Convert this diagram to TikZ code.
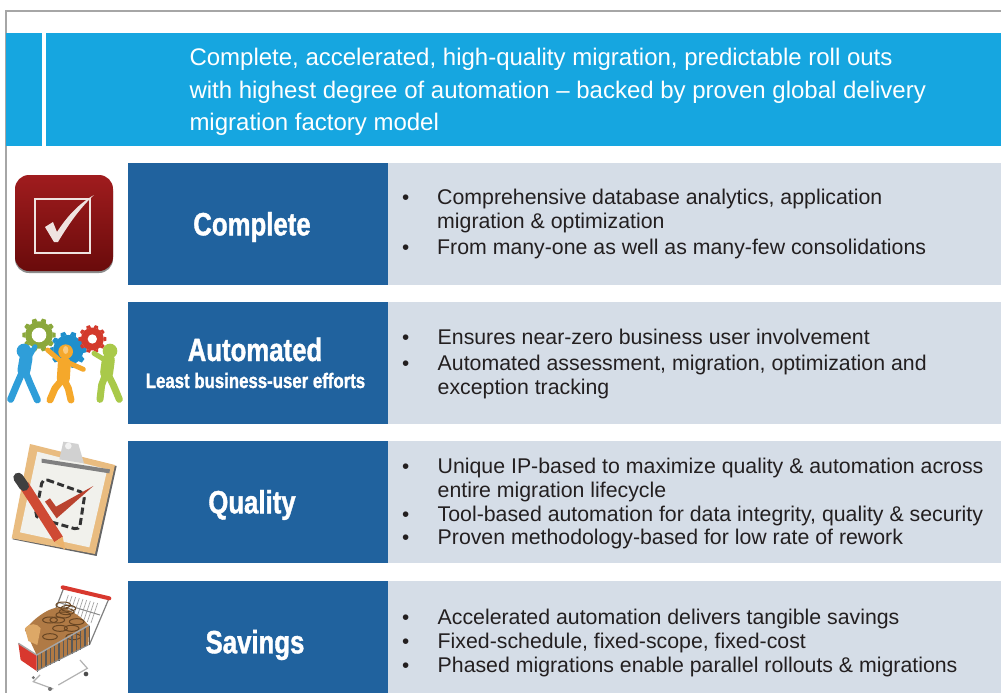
\documentclass[tikz,border=0pt]{standalone}
\usepackage{fontspec}
\setmainfont{Liberation Sans}
\newfontfamily\headfont[FakeStretch=0.8,FakeBold=1.2]{Liberation Sans Bold}
\definecolor{cyanbar}{HTML}{16A6E0}
\definecolor{darkbox}{HTML}{20629E}
\definecolor{lightbox}{HTML}{D5DDE7}
\definecolor{framegray}{HTML}{A6A6A6}
\definecolor{bodytext}{HTML}{231F20}
\definecolor{gearblue}{HTML}{1F8FCC}
\definecolor{geargreen}{HTML}{8BA83C}
\definecolor{gearred}{HTML}{D33A2C}
\definecolor{manblue}{HTML}{2F9ED9}
\definecolor{manorange}{HTML}{F5A82B}
\definecolor{mangreen}{HTML}{A9C94A}
\definecolor{boardtan}{HTML}{E9BC80}
\definecolor{paperwhite}{HTML}{F1F1EC}
\definecolor{pencilred}{HTML}{CF4A34}
\definecolor{coinbrown}{HTML}{B07A45}
\definecolor{coinlight}{HTML}{DDA867}
\definecolor{cartred}{HTML}{D8382E}
\definecolor{icontop}{HTML}{A01C1E}
\definecolor{iconbottom}{HTML}{6A0B0B}
\definecolor{iconwhite}{HTML}{EFE3E0}
\tikzset{
  headline/.style={anchor=base west,inner sep=0pt,text=white,font=\fontsize{24}{24}\selectfont},
  bodyline/.style={anchor=base west,inner sep=0pt,text=bodytext,font=\fontsize{21.3}{24}\selectfont},
  bulletmark/.style={anchor=base west,inner sep=0pt,text=bodytext,font=\fontsize{20.6}{24}\selectfont},
  titlebig/.style={inner sep=0pt,text=white,font=\fontsize{32.2}{30}\headfont},
  titlesmall/.style={inner sep=0pt,text=white,font=\fontsize{21}{24}\headfont},
  darkfill/.style={fill=darkbox,draw=none},
  lightfill/.style={fill=lightbox,draw=none},
  limb/.style={line cap=round,line join=round},
}
\newcommand{\gearicon}[5]{% x y r hole colour
  \foreach \ang in {0,36,...,324}{
    \fill[#5,shift={(#1,#2)},rotate=\ang] (#3*0.8,-#3*0.17) -- (#3,-#3*0.12) -- (#3,#3*0.12) -- (#3*0.8,#3*0.17) -- cycle;
  }
  \fill[#5] (#1,#2) circle[radius=#3*0.82];
  \fill[white] (#1,#2) circle[radius=#4];
}
\begin{document}
\begin{tikzpicture}[x=1pt,y=-1pt]
\useasboundingbox (0,0) rectangle (1001,693);
\fill[white] (0,0) rectangle (1001,693);
% frame
\draw[framegray,line width=1.2pt] (6,693) -- (6,11) -- (1001,11);
% header
\fill[cyanbar] (6,33) rectangle (42,146);
\fill[cyanbar] (46,33) rectangle (1001,146);
\node[headline] (h1) at (189.3,66) {Complete, accelerated, high-quality migration, predictable roll outs};
\node[headline] (h2) at (189.3,98) {with highest degree of automation – backed by proven global delivery};
\node[headline] (h3) at (189.3,130) {migration factory model};
% row boxes
\fill[darkfill] (128,163) rectangle (388,285);
\fill[lightfill] (388,163) rectangle (1001,285);
\fill[darkfill] (128,302) rectangle (388,424);
\fill[lightfill] (388,302) rectangle (1001,424);
\fill[darkfill] (128,441) rectangle (388,563);
\fill[lightfill] (388,441) rectangle (1001,563);
\fill[darkfill] (128,581) rectangle (388,693);
\fill[lightfill] (388,581) rectangle (1001,693);
% titles
\node[titlebig] (t1) at (252,227) {Complete};
\node[titlebig] (t2) at (255,349.5) {Automated};
\node[titlesmall] (t2b) at (255.5,380.5) {Least business-user efforts};
\node[titlebig] (t3) at (252,505) {Quality};
\node[titlebig] (t4) at (255,645) {Savings};
% row 1 text
\node[bulletmark] (b11) at (402,204) {•};
\node[bodyline] (l11) at (437,204) {Comprehensive database analytics, application};
\node[bodyline] (l12) at (437,228) {migration \& optimization};
\node[bulletmark] (b12) at (402,254) {•};
\node[bodyline] (l13) at (437,254) {From many-one as well as many-few consolidations};
% row 2 text
\node[bulletmark] (b21) at (402,344.3) {•};
\node[bodyline] (l21) at (437.5,344.3) {Ensures near-zero business user involvement};
\node[bulletmark] (b22) at (402,370.3) {•};
\node[bodyline] (l22) at (437.5,370.3) {Automated assessment, migration, optimization and};
\node[bodyline] (l23) at (437.5,394.3) {exception tracking};
% row 3 text
\node[bulletmark] (b31) at (402,473) {•};
\node[bodyline] (l31) at (437.5,473) {Unique IP-based to maximize quality \& automation across};
\node[bodyline] (l32) at (437.5,497) {entire migration lifecycle};
\node[bulletmark] (b32) at (402,521) {•};
\node[bodyline] (l33) at (437.5,521) {Tool-based automation for data integrity, quality \& security};
\node[bulletmark] (b33) at (402,544) {•};
\node[bodyline] (l34) at (437.5,544) {Proven methodology-based for low rate of rework};
% row 4 text
\node[bulletmark] (b41) at (402,624) {•};
\node[bodyline] (l41) at (437.5,624) {Accelerated automation delivers tangible savings};
\node[bulletmark] (b42) at (402,648) {•};
\node[bodyline] (l42) at (437.5,648) {Fixed-schedule, fixed-scope, fixed-cost};
\node[bulletmark] (b43) at (402,672) {•};
\node[bodyline] (l43) at (437.5,672) {Phased migrations enable parallel rollouts \& migrations};
% --- icon 1: check box
\fill[black!45,rounded corners=14pt] (15,177) rectangle (113,273);
\shade[top color=icontop,bottom color=iconbottom,rounded corners=14pt] (15,175) rectangle (113,271);
\draw[iconwhite,line width=2pt] (35,198.5) rectangle (90,253);
\fill[iconwhite] (45,227) -- (53,222) -- (57,232) .. controls (68,215) and (80,203) .. (94,195) .. controls (80,208) and (68,225) .. (58,242) -- (54,242) -- cycle;
% --- icon 2: gears and people (drawn in 3x crop coordinates)
\begin{scope}[shift={(0,300)},x=0.3333pt,y=-0.3333pt]
  \gearicon{205}{150}{55}{0}{gearblue}
  \gearicon{117}{105}{50}{22}{geargreen}
  \gearicon{277}{117}{42}{14}{gearred}
  % blue figure
  \draw[limb,line width=7pt,manblue] (72,205) -- (50,255) -- (32,298);
  \draw[limb,line width=7pt,manblue] (72,205) -- (90,250) -- (112,300);
  \draw[limb,line width=13pt,manblue] (78,175) -- (72,210);
  \draw[limb,line width=5pt,manblue] (88,170) -- (105,140);
  \fill[manblue] (72,153) circle[radius=22];
  % orange figure
  \draw[limb,line width=7pt,manorange] (190,235) -- (165,265) -- (150,300);
  \draw[limb,line width=7pt,manorange] (190,235) -- (205,265) -- (213,300);
  \draw[limb,line width=13pt,manorange] (193,190) -- (190,235);
  \draw[limb,line width=5pt,manorange] (180,182) -- (143,150);
  \draw[limb,line width=5pt,manorange] (205,188) -- (250,208);
  \fill[manorange] (197,155) circle[radius=22];
  \fill[white!40!manorange] (197,150) ellipse[x radius=8,y radius=12];
  % green figure
  \draw[limb,line width=7pt,mangreen] (320,215) -- (305,255) -- (300,298);
  \draw[limb,line width=7pt,mangreen] (320,215) -- (340,255) -- (358,298);
  \draw[limb,line width=13pt,mangreen] (325,180) -- (320,218);
  \draw[limb,line width=5pt,mangreen] (315,180) -- (282,160);
  \fill[mangreen] (330,153) circle[radius=22];
\end{scope}
% --- icon 3: clipboard
\begin{scope}[shift={(0,430)},x=0.3333pt,y=-0.3333pt]
  \fill[black!60] (92,45) -- (350,108) -- (290,378) -- (38,328) -- cycle;
  \fill[boardtan] (90,42) -- (345,105) -- (285,372) -- (35,325) -- cycle;
  \fill[paperwhite] (112,65) -- (322,118) -- (268,352) -- (60,307) -- cycle;
  \fill[black!50] (125,86) -- (330,118) -- (328,130) -- (125,98) -- cycle;
  \fill[black!18] (178,88) -- (190,35) -- (235,42) -- (252,100) -- cycle;
  \fill[black!5] (205,48) circle[radius=10];
  \draw[black!80,line width=3pt,dash pattern=on 7pt off 3.5pt,rounded corners=5pt] (128,145) -- (255,190) -- (238,300) -- (105,262) -- cycle;
  \fill[pencilred!90!black] (135,215) -- (150,205) -- (168,230) -- (280,168) -- (170,265) -- cycle;
  \draw[line width=10pt,pencilred] (72,165) -- (176,328);
  \draw[line width=10pt,black!75,line cap=round] (55,143) -- (72,168);
  \fill[boardtan!85!orange] (164,336) -- (188,320) -- (196,360) -- cycle;
\end{scope}
% --- icon 4: shopping cart
\begin{scope}[shift={(0,565)},x=0.3333pt,y=-0.3333pt]
  % far wires
  \foreach \k in {0,...,8}{
    \draw[black!35,line width=.7pt] ({205+\k*11},{90+\k*3}) -- ({185+\k*11},{150+\k*3});
  }
  \draw[black!50,line width=1.2pt] (190,72) -- (160,150);
  \draw[black!50,line width=1.2pt] (325,105) -- (268,240);
  \draw[black!45,line width=1pt] (175,112) -- (300,150);
  % coins and lower load
  \fill[coinbrown] (75,195) .. controls (100,160) and (160,115) .. (195,130) .. controls (230,145) and (255,165) .. (268,185) -- (265,240) -- (110,318) -- (110,270) -- cycle;
  \fill[coinlight] (75,190) .. controls (90,172) and (112,175) .. (122,190) -- (112,240) -- (85,228) -- cycle;
  \foreach \cx/\cy in {150/165,205/130,180/190,172/165,200/140,215/190,190/150,190/120,230/170,220/215,150/215}{
    \draw[brown!55!black,line width=1pt] (\cx,\cy) ellipse[x radius=22,y radius=9];
  }
  % red panel
  \fill[cartred] (55,235) -- (110,270) -- (110,318) -- (62,285) -- cycle;
  % front wires
  \foreach \k in {0,...,12}{
    \draw[black!65,line width=1.1pt] ({112+\k*13},{268-\k*7.2}) -- ({112+\k*13},{320-\k*6.6});
  }
  \draw[black!35,line width=1.4pt] (55,235) -- (110,270) -- (268,180);
  \draw[black!45,line width=1pt] (110,318) -- (265,240);
  % chassis
  \draw[black!30,line width=1.2pt] (120,330) -- (100,350) -- (160,372);
  \draw[black!30,line width=1.2pt] (240,285) -- (262,310) -- (175,360);
  \fill[black!70] (258,327) circle[radius=7];
  \fill[black!55] (150,372) circle[radius=6];
  \fill[black!55] (100,338) circle[radius=5];
  % handle
  \draw[cartred,line width=4pt,line cap=round] (188,67) -- (328,100);
\end{scope}
\end{tikzpicture}
\end{document}
